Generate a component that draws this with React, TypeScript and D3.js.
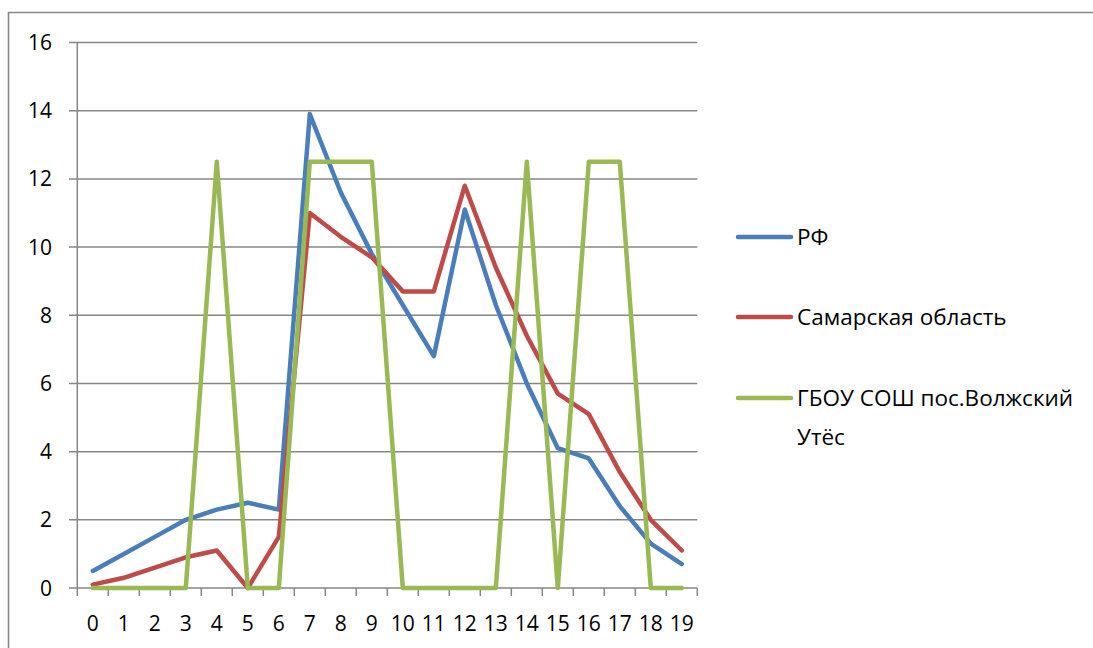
import React from "react";
import * as d3 from "d3";

const categories = ["0","1","2","3","4","5","6","7","8","9","10","11","12","13","14","15","16","17","18","19"];
const rf = [0.5, 1.0, 1.5, 2.0, 2.3, 2.5, 2.3, 13.9, 11.6, 9.8, 8.3, 6.8, 11.1, 8.3, 6.0, 4.1, 3.8, 2.4, 1.3, 0.7];
const samara = [0.1, 0.3, 0.6, 0.9, 1.1, 0.0, 1.5, 11.0, 10.3, 9.7, 8.7, 8.7, 11.8, 9.4, 7.4, 5.7, 5.1, 3.4, 2.0, 1.1];
const school = [0, 0, 0, 0, 12.5, 0, 0, 12.5, 12.5, 12.5, 0, 0, 0, 0, 12.5, 0, 12.5, 12.5, 0, 0];
const yTicks = [0, 2, 4, 6, 8, 10, 12, 14, 16];
const seriesNames = ["РФ", "Самарская область", "ГБОУ СОШ пос.Волжский Утёс"];
const legendLines = [["РФ"], ["Самарская область"], ["ГБОУ СОШ пос.Волжский", "Утёс"]];
const colors = ["#4a7ebb", "#be4b48", "#98b954"];

export default function App() {
  const W = 1093, H = 648;
  const left = 77.3, right = 697.3, top = 42.5, bottom = 588;
  const x = d3.scaleBand<string>().domain(categories).range([left, right]);
  const y = d3.scaleLinear().domain([0, 16]).range([bottom, top]);
  const grid = "#868686";
  const font = "'Open Sans', sans-serif";
  const data = [rf, samara, school];
  const line = d3.line<number>()
    .x((_, i) => (x(categories[i]) as number) + x.bandwidth() / 2)
    .y((d) => y(d));
  const boundaries = categories.map((c) => x(c) as number).concat([right]);
  const legendY = [237, 317, 398];

  return (
    <svg width={W} height={H} style={{ position: "absolute", left: 0, top: 0 }} fontFamily={font}>
      <rect x={0} y={0} width={W} height={H} fill="#fff" />
      <path d={`M8.5,${H + 5} V12.5 H${W + 5}`} fill="none" stroke={grid} strokeWidth={1.6} />
      {yTicks.map((t) => (
        <g key={t}>
          <line x1={69} x2={right} y1={y(t)} y2={y(t)} stroke={grid} strokeWidth={1.5} />
          <text x={52} y={y(t)} dy="0.36em" textAnchor="end" fontSize={21} fill="#000">{t}</text>
        </g>
      ))}
      <line x1={left} x2={left} y1={top} y2={bottom} stroke={grid} strokeWidth={1.5} />
      {boundaries.map((b, i) => (
        <line key={i} x1={b} x2={b} y1={bottom} y2={bottom + 8} stroke={grid} strokeWidth={1.5} />
      ))}
      {categories.map((c) => (
        <text key={c} x={(x(c) as number) + x.bandwidth() / 2} y={631} textAnchor="middle" fontSize={21} fill="#000">{c}</text>
      ))}
      {data.map((d, i) => (
        <path key={seriesNames[i]} d={line(d) || ""} fill="none" stroke={colors[i]} strokeWidth={4.5}
          strokeLinejoin="round" strokeLinecap="round" />
      ))}
      {legendLines.map((ls, i) => (
        <g key={i}>
          <line x1={738} x2={791} y1={legendY[i]} y2={legendY[i]} stroke={colors[i]} strokeWidth={4.5} strokeLinecap="round" />
          {ls.map((t, j) => (
            <text key={j} x={797} y={legendY[i] + j * 39} dy="0.36em" fontSize={22.5} fill="#000">{t}</text>
          ))}
        </g>
      ))}
    </svg>
  );
}
